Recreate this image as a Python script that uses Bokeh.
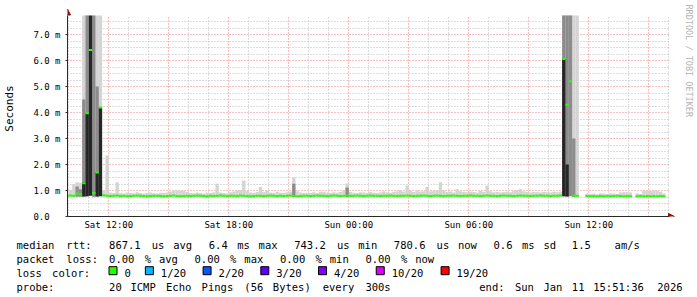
import math
import re
from bokeh.plotting import figure
from bokeh.layouts import column
from bokeh.models import Range1d, FixedTicker, Label, Arrow, NormalHead
from bokeh.core.properties import value
from bokeh.embed import file_html
from bokeh.resources import INLINE

NAN = float("nan")

# ---------------- data (10-minute bins, hours since Sat 00:00) ----------------
START_H = 9 + 50 / 60      # first bin: Sat 09:50
STEP_H = 10 / 60           # 10 minutes
GRAPH_TOP_MS = 7.73        # top of the graph; smoke above it is cut off there

median_ms = [
    0.80, 0.81, 0.80, 0.88, 0.86, 1.28, 3.97, 6.40, 0.90, 1.69, 4.19, 0.82,
    0.80, 0.79, 0.80, 0.81, 0.79, 0.80, 0.78, 0.79, 0.80, 0.81, 0.80, 0.79,
    0.78, 0.79, 0.80, 0.80, 0.79, 0.78, 0.79, 0.80, 0.81, 0.79, 0.78, 0.79,
    0.80, 0.79, 0.80, 0.81, 0.80, 0.79, 0.78, 0.80, 0.79, 0.80, 0.81, 0.80,
    0.79, 0.80, 0.80, 0.79, 0.81, 0.80, 0.79, 0.78, 0.79, 0.80, 0.80, 0.79,
    0.80, 0.81, 0.80, 0.79, 0.80, 0.79, 0.80, 0.81, 0.80, 0.78, 0.79, 0.80,
    0.80, 0.79, 0.80, 0.81, 0.80, 0.80, 0.79, 0.80, 0.81, 0.80, 0.79, 0.80,
    0.81, 0.80, 0.80, 0.81, 0.80, 0.79, 0.80, 0.81, 0.80, 0.80, 0.79, 0.80,
    0.80, 0.81, 0.80, 0.79, 0.80, 0.80, 0.81, 0.80, 0.79, 0.80, 0.80, 0.81,
    0.80, 0.79, 0.80, 0.81, 0.80, 0.79, 0.80, 0.80, 0.81, 0.80, 0.79, 0.80,
    0.80, 0.81, 0.80, 0.80, 0.79, 0.80, 0.81, 0.80, 0.80, 0.79, 0.80, 0.81,
    0.80, 0.80, 0.79, 0.80, 0.81, 0.80, 0.80, 0.79, 0.80, 0.80, 0.81, 0.80,
    0.80, 0.79, 0.80, 0.80, 0.81, 6.06, 4.30, 5.20, 0.80, 0.80, NAN, NAN,
    0.79, 0.78, 0.79, 0.78, 0.79, 0.78, 0.79, 0.78, 0.79, 0.80, 0.79, 0.78,
    0.79, 0.78, NAN, 0.78, 0.79, 0.78, 0.79, 0.78, 0.79, 0.78, 0.79, 0.78,
]

smoke_min_ms = [
    0.75, 0.75, 0.74, 0.76, 0.76, 0.77, 0.78, 0.80, 0.76, 0.77, 0.78, 0.75,
    0.74, 0.75, 0.74, 0.75, 0.74, 0.75, 0.74, 0.74, 0.75, 0.75, 0.74, 0.75,
    0.74, 0.74, 0.75, 0.75, 0.74, 0.74, 0.74, 0.75, 0.75, 0.74, 0.74, 0.74,
    0.75, 0.74, 0.75, 0.75, 0.74, 0.74, 0.74, 0.75, 0.74, 0.75, 0.75, 0.75,
    0.74, 0.75, 0.75, 0.74, 0.75, 0.75, 0.74, 0.74, 0.74, 0.75, 0.75, 0.74,
    0.75, 0.75, 0.75, 0.74, 0.75, 0.74, 0.75, 0.75, 0.75, 0.74, 0.74, 0.75,
    0.75, 0.74, 0.75, 0.75, 0.75, 0.75, 0.74, 0.75, 0.75, 0.75, 0.74, 0.75,
    0.75, 0.75, 0.75, 0.75, 0.75, 0.74, 0.75, 0.75, 0.75, 0.75, 0.74, 0.75,
    0.75, 0.75, 0.75, 0.74, 0.75, 0.75, 0.75, 0.75, 0.74, 0.75, 0.75, 0.75,
    0.75, 0.74, 0.75, 0.75, 0.75, 0.74, 0.75, 0.75, 0.75, 0.75, 0.74, 0.75,
    0.75, 0.75, 0.75, 0.75, 0.74, 0.75, 0.75, 0.75, 0.75, 0.74, 0.75, 0.75,
    0.75, 0.75, 0.74, 0.75, 0.75, 0.75, 0.75, 0.74, 0.75, 0.75, 0.75, 0.75,
    0.75, 0.74, 0.75, 0.75, 0.75, 0.78, 0.77, 0.78, 0.75, 0.75, NAN, NAN,
    0.74, 0.74, 0.74, 0.74, 0.74, 0.74, 0.74, 0.74, 0.74, 0.75, 0.74, 0.74,
    0.74, 0.74, NAN, 0.74, 0.74, 0.74, 0.74, 0.74, 0.74, 0.74, 0.74, 0.74,
]

T = GRAPH_TOP_MS
smoke_max_ms = [
    0.88, 1.02, 1.25, 1.32, 1.30, T, T, T, T, T, T, 1.00,
    2.35, 0.92, 0.90, 1.32, 0.90, 0.88, 0.92, 0.90, 0.89, 0.93, 0.90, 0.88,
    0.90, 0.92, 0.89, 0.88, 0.91, 0.90, 0.92, 0.96, 1.00, 1.00, 0.98, 1.00,
    0.95, 0.90, 0.89, 0.92, 0.90, 0.88, 0.91, 0.90, 0.93, 1.26, 0.92, 0.90,
    0.89, 0.93, 0.96, 1.00, 1.02, 1.38, 0.98, 0.92, 0.90, 0.94, 1.13, 0.95,
    1.00, 0.92, 0.90, 0.94, 0.91, 0.90, 0.93, 0.96, 1.51, 0.97, 0.92, 0.90,
    0.91, 0.90, 0.93, 0.90, 0.95, 0.95, 0.92, 0.90, 0.93, 0.91, 0.94, 1.00,
    1.27, 0.95, 0.91, 0.90, 0.93, 0.92, 0.90, 0.94, 0.91, 0.90, 0.92, 0.96,
    0.93, 0.91, 0.95, 0.97, 1.02, 0.96, 1.19, 0.98, 0.94, 1.00, 0.96, 0.97,
    1.13, 0.97, 0.98, 1.02, 1.32, 1.00, 0.95, 0.96, 0.92, 1.05, 0.97, 0.95,
    0.93, 0.96, 0.94, 0.92, 0.98, 0.95, 1.19, 0.97, 0.93, 0.95, 0.92, 0.94,
    0.96, 0.93, 0.98, 1.02, 1.06, 0.97, 0.94, 0.92, 0.95, 0.93, 0.92, 0.94,
    0.93, 0.92, 0.95, 0.93, 0.96, T, T, T, T, T, NAN, NAN,
    0.88, 0.87, 0.88, 0.86, 0.89, 0.88, 0.87, 0.89, 0.88, 0.87, 0.92, 0.93,
    0.93, 0.92, NAN, 0.88, 0.87, 0.99, 1.00, 0.98, 1.00, 0.99, 0.95, 0.88,
]

# denser smoke (bin index -> upper edge of the band)
mid_bins = [3, 4, 5, 6, 8, 9, 68, 84, 149, 150, 151, 152]
mid_top_ms = [1.15, 1.05, 4.50, T, T, 5.00, 1.26, 1.12, T, T, T, 3.00]
dark_bins = [5, 6, 7, 9, 10, 149, 150]
dark_top_ms = [1.32, 3.97, T, 1.70, 4.19, 6.06, 2.00]

x_tick_hours = [12, 18, 24, 30, 36]
x_tick_labels = ["Sat 12:00", "Sat 18:00", "Sun 00:00", "Sun 06:00", "Sun 12:00"]
x_major_grid_hours = [12, 15, 18, 21, 24, 27, 30, 33, 36, 39]
x_minor_grid_hours = [10, 11, 13, 14, 16, 17, 19, 20, 22, 23, 25, 26, 28, 29, 31, 32, 34, 35, 37, 38, 40]
y_tick_values = [0, 1, 2, 3, 4, 5, 6, 7]
y_tick_labels = ["0.0\u00a0\u00a0", "1.0 m", "2.0 m", "3.0 m", "4.0 m", "5.0 m", "6.0 m", "7.0 m"]
y_major_grid = [1, 2, 3, 4, 5, 6, 7]
y_minor_grid = [0.25, 0.5, 0.75, 1.25, 1.5, 1.75, 2.25, 2.5, 2.75, 3.25, 3.5, 3.75,
                4.25, 4.5, 4.75, 5.25, 5.5, 5.75, 6.25, 6.5, 6.75, 7.25, 7.5]

legend_line1 = "median rtt:  867.1 us avg  6.4 ms max  743.2 us min  780.6 us now  0.6 ms sd  1.5   am/s"
legend_line2 = "packet loss: 0.00 % avg  0.00 % max  0.00 % min  0.00 % now"
loss_title = "loss color:"
loss_labels = ["0", "1/20", "2/20", "3/20", "4/20", "10/20", "19/20"]
loss_colors = ["#26ff00", "#00b8ff", "#0059ff", "#5e00ff", "#7e00ff", "#dd00ff", "#ff0000"]
probe_line = "probe:       20 ICMP Echo Pings (56 Bytes) every 300s"
end_text = "end: Sun Jan 11 15:51:36 2026"
credit_text = "RRDTOOL / TOBI OETIKER"

# ---------------- styles ----------------
MONO = "DejaVu Sans Mono"
LIGHT, MID, DARK = "#d4d4d4", "#8c8c8c", "#262626"
GREEN = "#26ff00"
ARROW = "#8b1010"
AXIS = "#2a2a2a"

X_LO, X_HI = 9.935, 40.035          # graph area (hours)
PX_PER_H, PX_PER_MS = 20.0, 26.0
FRAME_L, FRAME_B = 67, 216          # frame left / bottom in canvas px
FRAME_W, FRAME_H = 697 - FRAME_L, FRAME_B

n = len(median_ms)
left = [START_H + i * STEP_H for i in range(n)]
right = [START_H + (i + 1) * STEP_H for i in range(n)]

p = figure(width=697, height=234,
           x_range=Range1d(X_LO, X_LO + FRAME_W / PX_PER_H),
           y_range=Range1d(0, FRAME_H / PX_PER_MS),
           output_backend="svg", toolbar_location=None,
           min_border_left=FRAME_L, min_border_right=0, min_border_top=0, min_border_bottom=234 - FRAME_B,
           background_fill_color="white", border_fill_color="white")
p.outline_line_color = None
p.frame_align = False

# grids
p.xgrid.ticker = FixedTicker(ticks=x_major_grid_hours, minor_ticks=x_minor_grid_hours)
p.ygrid.ticker = FixedTicker(ticks=y_major_grid, minor_ticks=y_minor_grid)
p.xgrid.cross_bounds = (0, GRAPH_TOP_MS)
p.ygrid.cross_bounds = (X_LO, X_HI)
for g in (p.xgrid, p.ygrid):
    g.grid_line_color = "#ea8282"
    g.grid_line_dash = "1 2"
    g.grid_line_width = 1
    g.minor_grid_line_color = "#bcbcbc"
    g.minor_grid_line_dash = "1 2"
    g.minor_grid_line_width = 1

# smoke
p.quad(left=left, right=right, bottom=smoke_min_ms, top=smoke_max_ms,
       fill_color=LIGHT, line_color=None)
p.quad(left=[left[i] for i in mid_bins], right=[right[i] for i in mid_bins],
       bottom=[smoke_min_ms[i] for i in mid_bins], top=mid_top_ms,
       fill_color=MID, line_color=None)
p.quad(left=[left[i] for i in dark_bins], right=[right[i] for i in dark_bins],
       bottom=[smoke_min_ms[i] for i in dark_bins], top=dark_top_ms,
       fill_color=DARK, line_color=None)
# median
p.segment(x0=left, x1=right, y0=median_ms, y1=median_ms, line_color=GREEN, line_width=2)

# axes
p.xaxis.bounds = (X_LO, X_HI)
p.yaxis.bounds = (0, GRAPH_TOP_MS)
p.xaxis.ticker = FixedTicker(ticks=x_tick_hours)
p.xaxis.major_label_overrides = {h: lab for h, lab in zip(x_tick_hours, x_tick_labels)}
p.yaxis.ticker = FixedTicker(ticks=y_tick_values)
p.yaxis.major_label_overrides = {v: lab for v, lab in zip(y_tick_values, y_tick_labels)}
for ax in (p.xaxis, p.yaxis):
    ax.axis_line_color = AXIS
    ax.major_label_text_font = MONO
    ax.major_label_text_font_size = "9px"
    ax.major_label_text_color = "black"
    ax.minor_tick_line_color = None
p.xaxis.major_tick_line_color = None
p.xaxis.major_tick_out = 0
p.xaxis.major_tick_in = 0
p.xaxis.major_label_standoff = 3
p.yaxis.major_tick_line_color = AXIS
p.yaxis.major_tick_out = 2
p.yaxis.major_tick_in = 0
p.yaxis.major_label_standoff = 5
p.yaxis.axis_label = "Seconds"
p.yaxis.axis_label_text_font = MONO
p.yaxis.axis_label_text_font_size = "11px"
p.yaxis.axis_label_text_font_style = "normal"
p.yaxis.axis_label_text_color = "black"
p.yaxis.axis_label_standoff = 14

# arrow heads at the ends of the axes
p.add_layout(Arrow(end=NormalHead(size=6, fill_color=ARROW, line_color=ARROW),
                   x_start=X_HI - 0.2, y_start=0, x_end=X_HI + 0.25, y_end=0, line_color=None))
p.add_layout(Arrow(end=NormalHead(size=6, fill_color=ARROW, line_color=ARROW),
                   x_start=X_LO, y_start=GRAPH_TOP_MS - 0.2, x_end=X_LO, y_end=GRAPH_TOP_MS + 0.25,
                   line_color=None))

# credit text on the right margin
p.add_layout(Label(x=X_LO + (688 - FRAME_L) / PX_PER_H, y=(FRAME_B - 4) / PX_PER_MS,
                   text=credit_text, angle=-math.pi / 2,
                   text_font=MONO, text_font_size="8.5px", text_color="#b4b4b4",
                   text_align="left", text_baseline="middle"))

# ---------------- legend below the graph ----------------
q = figure(width=697, height=63, x_range=Range1d(0, 697), y_range=Range1d(297, 234),
           output_backend="svg", toolbar_location=None,
           x_axis_location=None, y_axis_location=None,
           min_border_left=0, min_border_right=0, min_border_top=0, min_border_bottom=0,
           background_fill_color="white", border_fill_color="white")
q.outline_line_color = None
q.grid.visible = False
q.frame_align = False

CH = 7.12   # monospace column width in the legend
X0 = 16

def words(line, base_col=0):
    out = []
    for m in re.finditer(r"\S+", line):
        out.append((X0 + (base_col + m.start()) * CH, m.group()))
    return out

tx, ty, tt = [], [], []
for yb, line in ((244.3, legend_line1), (258.3, legend_line2), (286.3, probe_line)):
    for xx, w in words(line):
        tx.append(xx); ty.append(yb); tt.append(w)
for xx, w in words(end_text, 65):
    tx.append(xx); ty.append(286.3); tt.append(w)
for xx, w in words(loss_title):
    tx.append(xx); ty.append(272.3); tt.append(w)

# loss colour boxes
bx = []
cur = 124.0
for lab in loss_labels:
    bx.append(cur - 11.5)
    tx.append(cur); ty.append(272.3); tt.append(lab)
    cur = cur + (len(lab) + 2) * CH + 15

q.text(x=tx, y=ty, text=tt, text_font=value(MONO), text_font_size=value("10.5px"),
       text_color="black", text_baseline="alphabetic", text_align="left")
q.rect(x=bx, y=[270.2] * len(bx), width=8, height=8, fill_color=loss_colors,
       line_color="black", line_width=1)

layout = column(p, q, spacing=0)
open("out.html", "w").write(file_html(layout, INLINE))
